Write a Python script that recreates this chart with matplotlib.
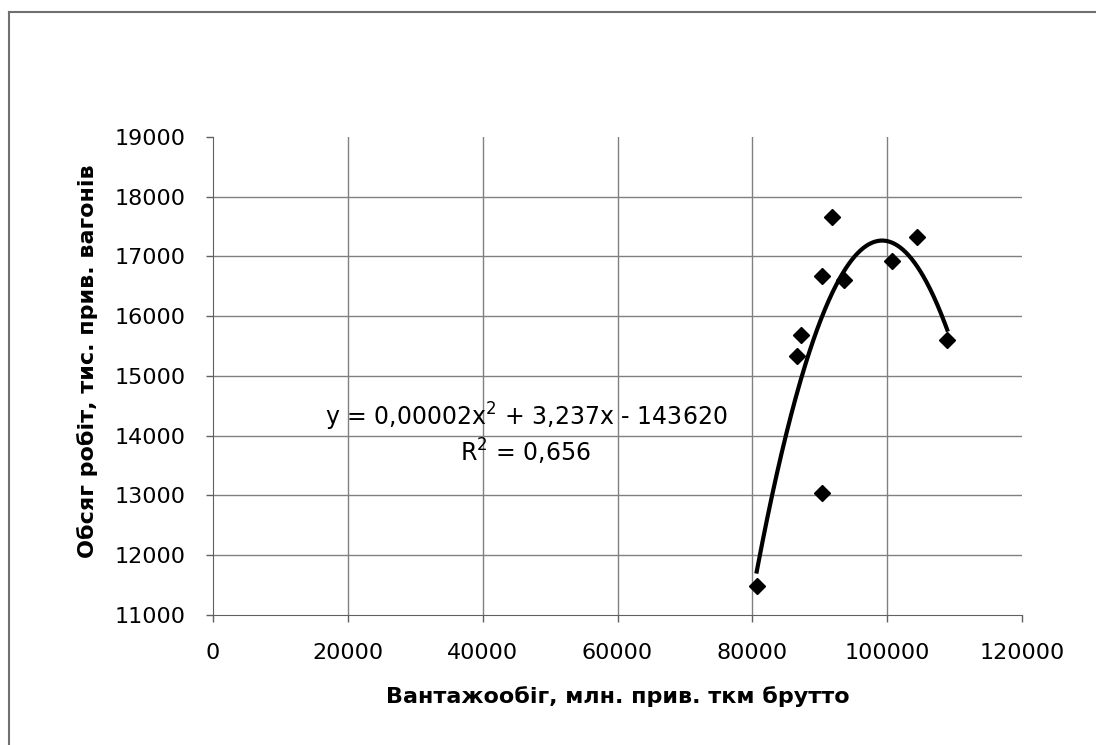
"""Обсяг робіт vs вантажообіг: scatter with 2nd order trendline."""
import numpy as np
import matplotlib
matplotlib.use("Agg")
import matplotlib.pyplot as plt
from matplotlib.lines import Line2D

plt.rcParams['font.family'] = ['DejaVu Sans']
plt.rcParams['mathtext.default'] = 'regular'

# вантажообіг, млн. прив. ткм брутто
freight = [80650, 86600, 87290, 90290, 90290, 91790, 93650, 100750, 104400, 108900]
# обсяг робіт, тис. прив. вагонів
work = [11480, 15340, 15680, 13040, 16680, 17660, 16610, 16930, 17330, 15610]

x_ticks = [0, 20000, 40000, 60000, 80000, 100000, 120000]
y_ticks = [11000, 12000, 13000, 14000, 15000, 16000, 17000, 18000, 19000]

eq_text = 'y = 0,00002x$^2$ + 3,237x - 143620'
r2_text = 'R$^2$ = 0,656'

W, H = 1096, 745
fig = plt.figure(figsize=(W / 100, H / 100), dpi=100)
ax = fig.add_axes([213 / W, 1 - 615 / H, (1022 - 213) / W, (615 - 137) / H])

# outer chart border: only top and left edges are inside the picture
top = 1 - 12 / H
left = 9 / W
fig.add_artist(Line2D([left, 1.0], [top, top], transform=fig.transFigure,
                      color='#707070', linewidth=1.5))
fig.add_artist(Line2D([left, left], [0.0, top], transform=fig.transFigure,
                      color='#707070', linewidth=1.5))

# second order polynomial trendline from the points
coef = np.polyfit(freight, work, 2)
xs = np.linspace(min(freight), max(freight), 200)
ax.plot(xs, np.polyval(coef, xs), color='black', linewidth=3, zorder=3)

ax.plot(freight, work, linestyle='none', marker='D', markersize=8.5,
        color='black', zorder=4)

ax.set_xlim(0, 120000)
ax.set_ylim(11000, 19000)
ax.set_xticks(x_ticks)
ax.set_yticks(y_ticks)
ax.tick_params(labelsize=16, length=5, width=1, color='#606060', pad=15)

ax.grid(True, color='#808080', linewidth=1)
ax.set_axisbelow(True)
# Excel leaves no grid line at the far edges
ax.xaxis.get_gridlines()[-1].set_visible(False)
ax.yaxis.get_gridlines()[-1].set_visible(False)
ax.xaxis.get_gridlines()[0].set_visible(False)
ax.yaxis.get_gridlines()[0].set_visible(False)

for side in ('top', 'right'):
    ax.spines[side].set_visible(False)
for side in ('left', 'bottom'):
    ax.spines[side].set_color('#606060')

ax.set_xlabel('Вантажообіг, млн. прив. ткм брутто', fontsize=16,
              fontweight='bold', labelpad=17)
ax.set_ylabel('Обсяг робіт, тис. прив. вагонів', fontsize=16,
              fontweight='bold')
ax.yaxis.set_label_coords(-0.142, 0.53)

ax.text(46400, 14310, eq_text, fontsize=17, ha='center', va='center')
ax.text(46400, 13730, r2_text, fontsize=17, ha='center', va='center')

fig.savefig('out.png', dpi=100)
